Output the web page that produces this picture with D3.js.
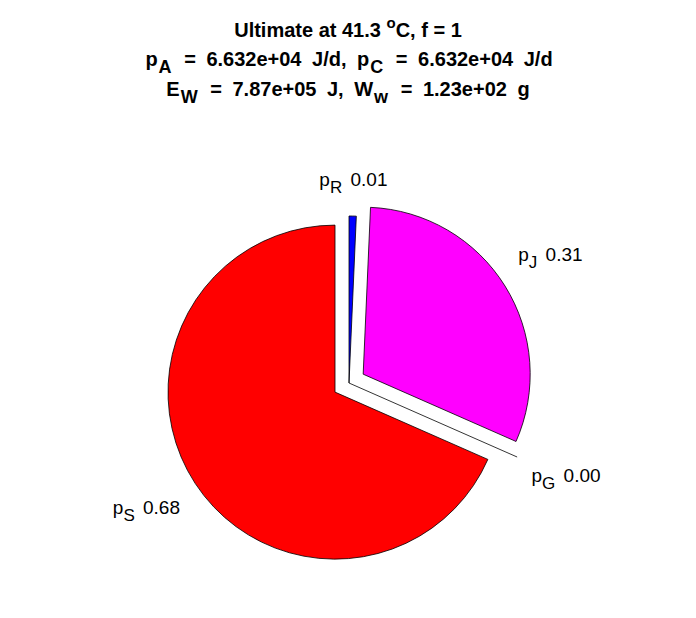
<!DOCTYPE html>
<html>
<head>
<meta charset="utf-8">
<script src="https://cdn.jsdelivr.net/npm/d3@7"></script>
<style>
  html, body { margin: 0; padding: 0; background: #fff; }
  svg { display: block; font-family: "Liberation Sans", Arial, Helvetica, sans-serif; }
</style>
</head>
<body>
<svg id="chart" width="696" height="618"></svg>
<script>
// ---- data (counter-clockwise from 12 o'clock, as drawn) ----
const names    = ["S", "G", "J", "R"];          // subscript of p
const values   = [0.684, 0.000, 0.309, 0.007];  // fractions of p_A
const colors   = ["#ff0000", "#00ff00", "#ff00ff", "#0000ff"];
const exploded = [true, true, true, false];

const titleTemp = "41.3";
const titleF    = "1";
const pA        = "6.632e+04";
const pC        = "6.632e+04";
const EW        = "7.87e+05";
const Ww        = "1.23e+02";

// ---- layout ----
const svg = d3.select("#chart");
const cx = 349, cy = 383, R = 167;
const explodeFrac = 0.1;

const pie = d3.pie().sort(null).value(d => d.v).startAngle(0).endAngle(-2 * Math.PI);
const data = values.map((v, i) => ({ v, name: names[i], color: colors[i], ex: exploded[i] }));
const arcs = pie(data);
const arc = d3.arc().innerRadius(0).outerRadius(R);

const rScale = d3.scaleLinear().domain([0, 1]).range([0, R]);
const dir = a => [Math.sin(a), -Math.cos(a)];

const g = svg.append("g").attr("transform", `translate(${cx},${cy})`);

arcs.forEach(a => {
  const mid = (a.startAngle + a.endAngle) / 2;
  const [dx, dy] = dir(mid);
  const off = a.data.ex ? rScale(explodeFrac) : 0;
  if (a.data.v > 0) {
    g.append("path")
      .attr("d", arc(a))
      .attr("transform", `translate(${dx * off},${dy * off})`)
      .attr("fill", a.data.color)
      .attr("stroke", "#000")
      .attr("stroke-width", 0.8)
      .attr("stroke-linejoin", "miter");
  } else {
    // zero-size slice: drawn as a single edge line
    const line = d3.line();
    g.append("path")
      .attr("d", line([[0, 0], [dx * (rScale(1) + off), dy * (rScale(1) + off)]]))
      .attr("fill", "none")
      .attr("stroke", "#000")
      .attr("stroke-width", 0.8);
  }
});

// labels
arcs.forEach(a => {
  const mid = (a.startAngle + a.endAngle) / 2;
  const [dx, dy] = dir(mid);
  const k = a.data.ex ? 1.42 : 1.2;
  const t = g.append("text")
    .attr("x", dx * rScale(k) - (a.data.name === "S" ? 4 : 0))
    .attr("y", dy * rScale(k) - (a.data.name === "S" ? 2 : 0))
    .attr("text-anchor", "middle")
    .attr("font-size", 19)
    .attr("word-spacing", 3)
    .attr("fill", "#000");
  t.append("tspan").text("p");
  t.append("tspan").attr("font-size", 17).attr("dy", 7).text(a.data.name);
  t.append("tspan").attr("dy", -7).text(" " + a.data.v.toFixed(2));
  t.attr("dy", 3);
});

// title
const title = svg.append("g").attr("font-weight", "bold").attr("font-size", 20)
  .attr("text-anchor", "middle");
const l1 = title.append("text").attr("x", 348).attr("y", 37);
l1.append("tspan").text(`Ultimate at ${titleTemp} `);
l1.append("tspan").attr("font-size", 15).attr("dy", -9).text("o");
l1.append("tspan").attr("dy", 9).text(`C, f = ${titleF}`);

const l2 = title.append("text").attr("x", 349).attr("y", 66).attr("word-spacing", 5);
l2.append("tspan").text("p");
l2.append("tspan").attr("font-size", 18).attr("dy", 7).attr("dx", 1).text("A");
l2.append("tspan").attr("dy", -7).attr("dx", 2).text(` = ${pA} J/d, p`);
l2.append("tspan").attr("font-size", 18).attr("dy", 7).attr("dx", 1).text("C");
l2.append("tspan").attr("dy", -7).attr("dx", 2).text(` = ${pC} J/d`);

const l3 = title.append("text").attr("x", 348).attr("y", 96).attr("word-spacing", 5);
l3.append("tspan").text("E");
l3.append("tspan").attr("font-size", 18).attr("dy", 7).attr("dx", 1).text("W");
l3.append("tspan").attr("dy", -7).attr("dx", 2).text(` = ${EW} J, W`);
l3.append("tspan").attr("font-size", 18).attr("dy", 7).attr("dx", 1).text("w");
l3.append("tspan").attr("dy", -7).attr("dx", 2).text(` = ${Ww} g`);
</script>
</body>
</html>
